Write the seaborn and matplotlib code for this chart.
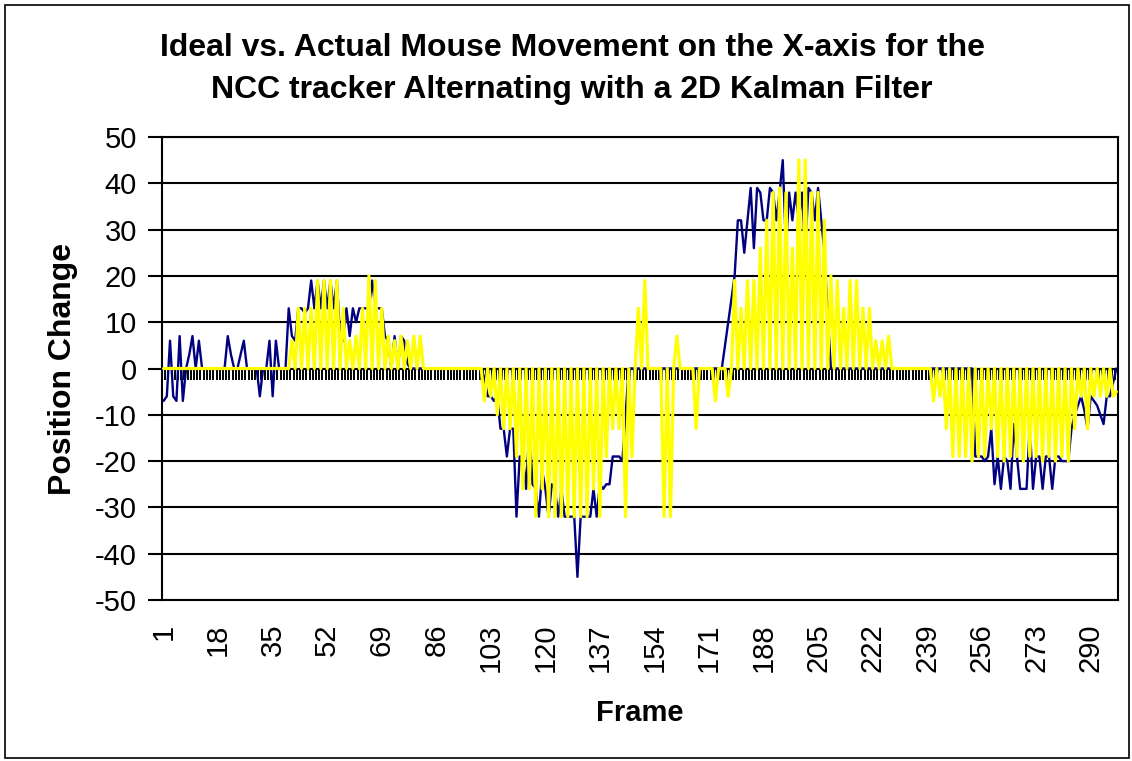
import numpy as np
import pandas as pd
import matplotlib
matplotlib.use("Agg")
import matplotlib.pyplot as plt
from matplotlib.patches import Rectangle
import seaborn as sns

# ideal mouse movement (x change per frame), frames 1..298
ideal = [
    -7, -6, 6, -6, -7, 7, -7, 0, 3, 7,            # 1-10
    0, 6, 0, 0, 0, 0, 0, 0, 0, 0,                 # 11-20
    7, 3, 0, 0, 3, 6, 0, 0, 0, 0,                 # 21-30
    -6, 0, 0, 6, -6, 6, 0, 0, 0, 13,              # 31-40
    7, 6, 13, 13, 12, 13, 19, 13, 19, 13,         # 41-50
    19, 13, 19, 13, 19, 7, 6, 13, 7, 13,          # 51-60
    10, 13, 13, 13, 13, 19, 13, 13, 13, 7,        # 61-70
    6, 0, 7, 0, 7, 6, 1, 0, 0, 0,                 # 71-80
    0, 0, 0, 0, 0, 0, 0, 0, 0, 0,                 # 81-90
    0, 0, 0, 0, 0, 0, 0, 0, 0, 0,                 # 91-100
    -2, -6, -6, -7, -6, -13, -13, -19, -13, -13,  # 101-110
    -32, -19, -19, -26, -13, -25, -26, -32, -22, -26,  # 111-120
    -32, -25, -26, -32, -26, -32, -32, -32, -32, -45,  # 121-130
    -32, -32, -32, -32, -26, -32, -25, -26, -25, -25,  # 131-140
    -19, -19, -19, -20, -10, 0, 0, 0, 0, 0,       # 141-150
    0, 0, 0, 0, 0, 0, 0, 0, 0, 0,                 # 151-160
    0, 0, 0, 0, 0, 0, 0, 0, 0, 0,                 # 161-170
    0, 0, 0, 0, 0, 5, 10, 15, 20, 32,             # 171-180
    32, 25, 32, 39, 26, 39, 38, 32, 32, 39,       # 181-190
    38, 32, 38, 45, 26, 38, 32, 38, 32, 38,       # 191-200
    25, 39, 38, 32, 39, 32, 25, 12, 0, 0,         # 201-210
    0, 0, 0, 0, 0, 0, 0, 0, 0, 0,                 # 211-220
    0, 0, 0, 0, 0, 0, 0, 0, 0, 0,                 # 221-230
    0, 0, 0, 0, 0, 0, 0, 0, 0, 0,                 # 231-240
    0, 0, 0, 0, 0, 0, 0, 0, 0, 0,                 # 241-250
    0, 0, 0, -19, -19, -19, -20, -19, -13, -25,   # 251-260
    -19, -26, -19, -20, -26, -12, -19, -26, -26, -26,  # 261-270
    -12, -26, -19, -19, -26, -19, -19, -26, -19, -19,  # 271-280
    -20, -20, -20, -13, -10, -8, -6, -9, -13, -6,      # 281-290
    -7, -8, -10, -12, -6, -6, -3, 0,              # 291-298
]

# NCC tracker alternating with the Kalman filter, frames 1..298
actual = [
    0, 0, 0, 0, 0, 0, 0, 0, 0, 0,                 # 1-10
    0, 0, 0, 0, 0, 0, 0, 0, 0, 0,                 # 11-20
    0, 0, 0, 0, 0, 0, 0, 0, 0, 0,                 # 21-30
    0, 0, 0, 0, 0, 0, 0, 0, 0, 0,                 # 31-40
    6, 0, 13, 0, 13, 0, 13, 0, 19, 0,             # 41-50
    19, 0, 19, 0, 19, 0, 13, 0, 6, 0,             # 51-60
    7, 0, 13, 0, 20, 0, 19, 0, 13, 0,             # 61-70
    7, 0, 6, 0, 7, 0, 6, 0, 7, 0,                 # 71-80
    7, 0, 0, 0, 0, 0, 0, 0, 0, 0,                 # 81-90
    0, 0, 0, 0, 0, 0, 0, 0, 0, 0,                 # 91-100
    -7, 0, -6, 0, -10, 0, -13, 0, -13, 0,         # 101-110
    -19, 0, -26, 0, -26, 0, -32, 0, -26, 0,       # 111-120
    -32, 0, -32, 0, -32, 0, -32, 0, -32, 0,       # 121-130
    -32, 0, -32, 0, -26, 0, -32, 0, -19, 0,       # 131-140
    -13, 0, -13, 0, -32, 0, -19, 0, 13, 0,        # 141-150
    19, 0, 0, 0, 0, 0, -32, 0, -32, 0,            # 151-160
    7, 0, 0, 0, 0, 0, -13, 0, 0, 0,               # 161-170
    0, 0, -7, 0, 0, 0, -6, 0, 19, 0,              # 171-180
    13, 0, 19, 0, 19, 0, 26, 0, 32, 0,            # 181-190
    38, 0, 39, 0, 38, 0, 26, 0, 45, 0,            # 191-200
    45, 0, 38, 0, 38, 0, 32, 0, 20, 0,            # 201-210
    19, 0, 13, 0, 19, 0, 19, 0, 13, 0,            # 211-220
    13, 0, 6, 0, 6, 0, 7, 0, 0, 0,                # 221-230
    0, 0, 0, 0, 0, 0, 0, 0, 0, 0,                 # 231-240
    -7, 0, -6, 0, -13, 0, -19, 0, -19, 0,         # 241-250
    -19, 0, -20, 0, -19, 0, -19, 0, -13, 0,       # 251-260
    -19, 0, -20, 0, -19, 0, -19, 0, -20, 0,       # 261-270
    -19, 0, -19, 0, -20, 0, -19, 0, -20, 0,       # 271-280
    -19, 0, -20, 0, -13, 0, -6, 0, -13, 0,        # 281-290
    -6, 0, -6, 0, -6, 0, -6, -5,                  # 291-298
]

frame_labels = [1, 18, 35, 52, 69, 86, 103, 120, 137, 154, 171, 188,
                205, 222, 239, 256, 273, 290]
y_ticks = [-50, -40, -30, -20, -10, 0, 10, 20, 30, 40, 50]

title = ("Ideal vs. Actual Mouse Movement on the X-axis for the\n"
         "NCC tracker Alternating with a 2D Kalman Filter")

n = len(ideal)
df = pd.DataFrame({"Frame": np.arange(1, n + 1), "Ideal": ideal, "Actual": actual})

sns.set_style("white")
plt.rcParams["font.family"] = ["Liberation Sans", "DejaVu Sans"]
plt.rcParams["axes.unicode_minus"] = False
for key in ["text.color", "axes.labelcolor", "xtick.color", "ytick.color"]:
    plt.rcParams[key] = "black"

W, H = 1132, 761
fig = plt.figure(figsize=(W / 100, H / 100), dpi=100)
ax = fig.add_axes([162 / W, 1 - 600 / H, 956 / W, 463 / H])

# horizontal gridlines and the category axis crossing at zero
ax.yaxis.grid(True, color="black", lw=1.5, zorder=0)
ax.axhline(0, color="black", lw=1.5, zorder=1)
ax.vlines(np.arange(0.5, n + 1, 1), -2.4, 0, color="black", lw=1.4, zorder=1)

sns.lineplot(data=df, x="Frame", y="Ideal", color="#000080", lw=1.7, ax=ax, zorder=3)
sns.lineplot(data=df, x="Frame", y="Actual", color="#FFFF00", lw=2.3, ax=ax, zorder=4)

ax.set_xlim(0.5, n + 0.5)
ax.set_ylim(-50, 50)
ax.set_yticks(y_ticks)
ax.set_xticks(frame_labels)
ax.tick_params(axis="x", bottom=False, length=0, labelrotation=90, labelsize=21, pad=17)
ax.tick_params(axis="y", left=True, length=10, width=1.5, direction="out",
               labelsize=21, pad=8, color="black")
for s in ax.spines.values():
    s.set_color("black")
    s.set_linewidth(1.5)

ax.set_xlabel("Frame", fontsize=21, fontweight="bold", labelpad=19)
ax.set_ylabel("Position Change", fontsize=23, fontweight="bold", labelpad=12)
fig.text(572 / W, 1 - 69 / H, title, ha="center", va="center", fontsize=23,
         fontweight="bold", linespacing=1.48)

# chart area border
fig.patches.append(Rectangle((5 / W, 3 / H), 1 - 8 / W, 1 - 8 / H, transform=fig.transFigure,
                             fill=False, edgecolor="black", lw=1.2))

fig.savefig("out.png", dpi=100)
